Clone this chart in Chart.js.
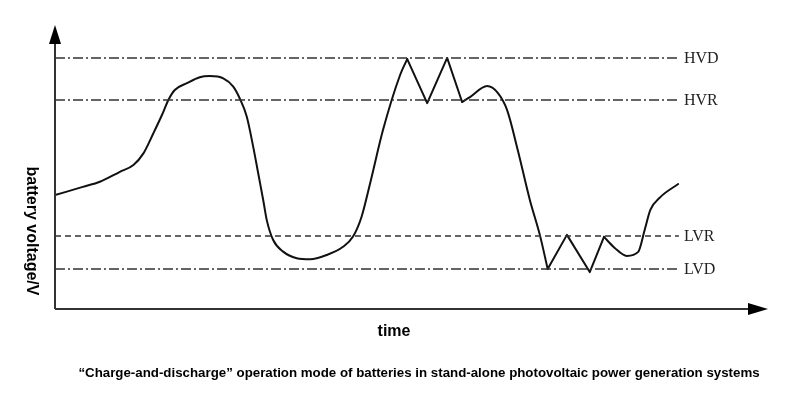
<!DOCTYPE html>
<html>
<head>
<meta charset="utf-8">
<script src="https://cdn.jsdelivr.net/npm/chart.js@4/dist/chart.umd.min.js"></script>
<style>
html,body{margin:0;padding:0;background:#fff;}
#wrap{position:relative;width:800px;height:397px;}
</style>
</head>
<body>
<div id="wrap"><canvas id="c" width="800" height="397"></canvas></div>
<script>
// Time (arbitrary units) and battery voltage (arbitrary units)
const timeValues = [0, 3.9, 6.3, 9.1, 11.0, 12.4, 13.8, 15.0, 15.9, 16.8, 18.5, 20.3, 21.7, 23.6, 25.0, 25.9, 26.9, 27.8, 28.5, 29.2, 29.7, 30.6, 32.0, 33.9, 35.8, 38.1, 40.4, 41.8, 43.0, 44.2, 46.0, 48.4, 49.4, 52.2, 55.0, 57.1, 58.2, 60.6, 62.1, 63.4, 64.9, 66.6, 68.0, 69.1, 71.8, 75.0, 77.0, 78.5, 80.2, 81.8, 82.7, 83.5, 84.9, 87.4];
const voltageValues = [40.1, 43.0, 44.8, 48.3, 50.7, 54.8, 61.9, 68.3, 73.6, 77.1, 79.5, 81.6, 82.0, 81.2, 78.3, 74.2, 67.7, 57.1, 47.8, 38.4, 31.3, 24.3, 20.2, 17.9, 17.5, 19.0, 21.9, 25.5, 32.5, 44.3, 63.0, 82.4, 88.0, 72.5, 88.4, 72.9, 74.6, 78.5, 76.1, 70.1, 56.0, 38.4, 26.1, 14.1, 26.1, 13.0, 25.4, 21.5, 18.7, 20.1, 27.8, 34.9, 39.4, 44.0];
// pieces of the curve: [first index, last index, smooth?]
const curvePieces = [[0, 32, true], [32, 35, false], [35, 43, true], [43, 46, false], [46, 53, true]];
const thresholdNames = ['HVD', 'HVR', 'LVR', 'LVD'];
const thresholdValues = [88.4, 73.6, 25.7, 14.1];
const thresholdLineEnd = 87.5;
const xAxisLabel = 'time';
const yAxisLabel = 'battery voltage/V';
const captionText = '\u201CCharge-and-discharge\u201D operation mode of batteries in stand-alone photovoltaic power generation systems';

const dashStyles = {HVD: [10, 3, 2, 3], HVR: [10, 3, 2, 3], LVR: [6, 4], LVD: [10, 3, 2, 3]};

const datasets = [];
thresholdNames.forEach((n, i) => {
  datasets.push({
    label: n,
    data: [{x: 0, y: thresholdValues[i]}, {x: thresholdLineEnd, y: thresholdValues[i]}],
    borderColor: '#333', borderWidth: 1.5, borderDash: dashStyles[n], pointRadius: 0, tension: 0
  });
});
curvePieces.forEach(([s, e, smooth]) => {
  const pts = [];
  for (let i = s; i <= e; i++) pts.push({x: timeValues[i], y: voltageValues[i]});
  datasets.push({data: pts, borderColor: '#111', borderWidth: 2, pointRadius: 0, fill: false,
    tension: smooth ? 0.4 : 0, cubicInterpolationMode: smooth ? 'monotone' : 'default',
    borderJoinStyle: 'round', borderCapStyle: 'round'});
});

const decor = {
  id: 'decor',
  afterDatasetsDraw(chart) {
    const {ctx, chartArea: a, scales: {x, y}} = chart;
    ctx.save();
    const ox = x.getPixelForValue(0), oy = y.getPixelForValue(0);
    ctx.strokeStyle = '#333'; ctx.lineWidth = 2;
    ctx.beginPath();
    ctx.moveTo(ox, oy); ctx.lineTo(ox, a.top + 15);
    ctx.moveTo(ox, oy); ctx.lineTo(a.right - 15, oy);
    ctx.stroke();
    ctx.fillStyle = '#000';
    ctx.beginPath();
    ctx.moveTo(ox, a.top); ctx.lineTo(ox - 6, a.top + 19); ctx.lineTo(ox + 6, a.top + 19); ctx.closePath(); ctx.fill();
    ctx.beginPath();
    ctx.moveTo(a.right, oy); ctx.lineTo(a.right - 20, oy - 6); ctx.lineTo(a.right - 20, oy + 6); ctx.closePath(); ctx.fill();
    ctx.fillStyle = '#222';
    ctx.font = '16px "Liberation Serif", "DejaVu Serif", serif';
    ctx.textAlign = 'left'; ctx.textBaseline = 'middle';
    thresholdNames.forEach((n, i) => {
      ctx.fillText(n, x.getPixelForValue(thresholdLineEnd) + 5, y.getPixelForValue(thresholdValues[i]) + 1);
    });
    ctx.fillStyle = '#000';
    ctx.font = 'bold 16px "Liberation Sans", Arial, sans-serif';
    ctx.textAlign = 'center';
    ctx.fillText(xAxisLabel, 394, 332);
    ctx.save();
    ctx.translate(31, 231);
    ctx.rotate(Math.PI / 2);
    ctx.fillText(yAxisLabel, 0, 0);
    ctx.restore();
    ctx.font = 'bold 13.3px "Liberation Sans", Arial, sans-serif';
    ctx.fillText(captionText, 419, 373);
    ctx.restore();
  }
};

new Chart(document.getElementById('c'), {
  type: 'line',
  data: {datasets},
  options: {
    responsive: false, animation: false,
    layout: {padding: {left: 55, right: 32, top: 25, bottom: 88}},
    plugins: {legend: {display: false}, tooltip: {enabled: false}},
    scales: {
      x: {type: 'linear', min: 0, max: 100, display: false},
      y: {type: 'linear', min: 0, max: 100, display: false}
    }
  },
  plugins: [decor]
});
</script>
</body>
</html>
